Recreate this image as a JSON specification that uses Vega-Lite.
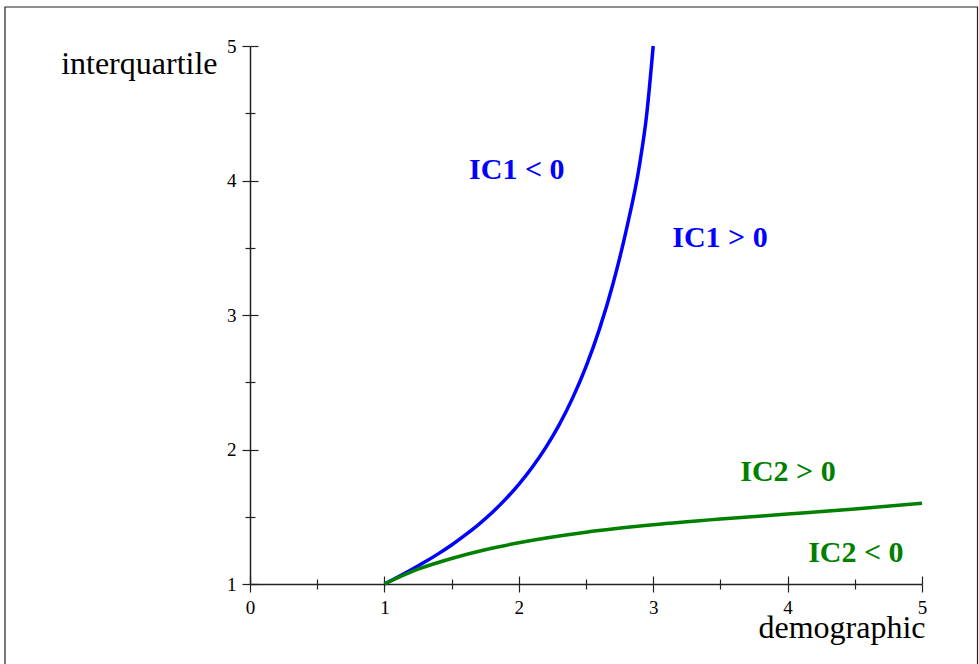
{
  "$schema": "https://vega.github.io/schema/vega-lite/v6.json",
  "width": 672,
  "height": 538,
  "autosize": {"type": "none"},
  "padding": {"left": 250, "top": 46, "right": 57, "bottom": 80},
  "background": "white",
  "config": {"view": {"stroke": null}, "font": "Liberation Serif"},
  "datasets": {
    "frame": [{"x": -1.823, "x2": 5.413, "y": 5.29, "y2": 0.4}],
    "curves": [
      {"curve": "IC1", "x": 1.0, "y": 1.0},
      {"curve": "IC1", "x": 1.1, "y": 1.052},
      {"curve": "IC1", "x": 1.2, "y": 1.106},
      {"curve": "IC1", "x": 1.3, "y": 1.163},
      {"curve": "IC1", "x": 1.4, "y": 1.224},
      {"curve": "IC1", "x": 1.5, "y": 1.29},
      {"curve": "IC1", "x": 1.6, "y": 1.363},
      {"curve": "IC1", "x": 1.7, "y": 1.442},
      {"curve": "IC1", "x": 1.8, "y": 1.53},
      {"curve": "IC1", "x": 1.9, "y": 1.629},
      {"curve": "IC1", "x": 2.0, "y": 1.741},
      {"curve": "IC1", "x": 2.1, "y": 1.868},
      {"curve": "IC1", "x": 2.2, "y": 2.014},
      {"curve": "IC1", "x": 2.3, "y": 2.183},
      {"curve": "IC1", "x": 2.4, "y": 2.382},
      {"curve": "IC1", "x": 2.5, "y": 2.616},
      {"curve": "IC1", "x": 2.6, "y": 2.895},
      {"curve": "IC1", "x": 2.7, "y": 3.229},
      {"curve": "IC1", "x": 2.8, "y": 3.633},
      {"curve": "IC1", "x": 2.9, "y": 4.127},
      {"curve": "IC1", "x": 2.95, "y": 4.477},
      {"curve": "IC1", "x": 3.0, "y": 5.0},
      {"curve": "IC2", "x": 1.0, "y": 1.0},
      {"curve": "IC2", "x": 1.25, "y": 1.11},
      {"curve": "IC2", "x": 1.5, "y": 1.19},
      {"curve": "IC2", "x": 1.75, "y": 1.255},
      {"curve": "IC2", "x": 2.0, "y": 1.307},
      {"curve": "IC2", "x": 2.5, "y": 1.385},
      {"curve": "IC2", "x": 3.0, "y": 1.44},
      {"curve": "IC2", "x": 3.5, "y": 1.483},
      {"curve": "IC2", "x": 4.0, "y": 1.52},
      {"curve": "IC2", "x": 4.5, "y": 1.558},
      {"curve": "IC2", "x": 5.0, "y": 1.6}
    ],
    "labels": [
      {"curve": "IC1", "label": "IC1 < 0", "x": 1.985, "y": 4.08},
      {"curve": "IC1", "label": "IC1 > 0", "x": 3.497, "y": 3.576},
      {"curve": "IC2", "label": "IC2 > 0", "x": 4.003, "y": 1.829},
      {"curve": "IC2", "label": "IC2 < 0", "x": 4.508, "y": 1.232}
    ]
  },
  "layer": [
    {
      "data": {"name": "frame"},
      "mark": {"type": "rect", "filled": false, "stroke": "#222222", "strokeWidth": 1.2, "clip": false},
      "encoding": {
        "x": {"field": "x", "type": "quantitative", "scale": {"domain": [0, 5], "nice": false, "zero": false}, "axis": null},
        "x2": {"field": "x2"},
        "y": {"field": "y", "type": "quantitative", "scale": {"domain": [1, 5], "nice": false, "zero": false}, "axis": null},
        "y2": {"field": "y2"}
      }
    },
    {
      "data": {"name": "curves"},
      "mark": {"type": "line", "strokeWidth": 3.5, "interpolate": "monotone", "clip": false},
      "encoding": {
        "x": {
          "field": "x", "type": "quantitative",
          "scale": {"domain": [0, 5], "nice": false, "zero": false},
          "axis": {
            "orient": "bottom",
            "values": [0, 0.5, 1, 1.5, 2, 2.5, 3, 3.5, 4, 4.5, 5],
            "labelExpr": "datum.value % 1 === 0 ? format(datum.value, 'd') : ''",
            "tickSize": {"condition": {"test": "datum.value % 1 === 0", "value": 8}, "value": 5},
            "tickColor": "#222222", "tickWidth": 1.2,
            "domainColor": "#222222", "domainWidth": 1.5,
            "grid": false,
            "labelFont": "Liberation Serif", "labelFontSize": 19, "labelColor": "#000000",
            "labelPadding": 6, "labelFlush": false, "labelOverlap": false,
            "title": "demographic",
            "titleFont": "Liberation Serif", "titleFontSize": 32, "titleFontWeight": "normal", "titleColor": "#000000",
            "titleAlign": "right", "titleBaseline": "alphabetic", "titleAnchor": null,
            "titleX": 675, "titleY": 53
          }
        },
        "y": {
          "field": "y", "type": "quantitative",
          "scale": {"domain": [1, 5], "nice": false, "zero": false},
          "axis": {
            "orient": "left",
            "values": [1, 1.5, 2, 2.5, 3, 3.5, 4, 4.5, 5],
            "labelExpr": "datum.value % 1 === 0 ? format(datum.value, 'd') : ''",
            "tickSize": {"condition": {"test": "datum.value % 1 === 0", "value": 8}, "value": 5},
            "tickColor": "#222222", "tickWidth": 1.2,
            "domainColor": "#222222", "domainWidth": 1.5,
            "grid": false,
            "labelFont": "Liberation Serif", "labelFontSize": 19, "labelColor": "#000000",
            "labelPadding": 6, "labelFlush": false, "labelOverlap": false,
            "title": "interquartile",
            "titleFont": "Liberation Serif", "titleFontSize": 32, "titleFontWeight": "normal", "titleColor": "#000000",
            "titleAngle": 0, "titleAlign": "right", "titleBaseline": "alphabetic", "titleAnchor": null,
            "titleX": -33, "titleY": 27
          }
        },
        "color": {
          "field": "curve", "type": "nominal",
          "scale": {"domain": ["IC1", "IC2"], "range": ["#0000ff", "#008000"]},
          "legend": null
        }
      }
    },
    {
      "data": {"name": "labels"},
      "mark": {"type": "text", "font": "Liberation Serif", "fontSize": 30, "fontWeight": "bold", "align": "center", "baseline": "middle"},
      "encoding": {
        "x": {
          "field": "x", "type": "quantitative",
          "scale": {"domain": [0, 5], "nice": false, "zero": false},
          "axis": {
            "orient": "top", "offset": -538,
            "values": [0, 0.5, 1, 1.5, 2, 2.5, 3, 3.5, 4, 4.5, 5],
            "labels": false, "domain": false, "grid": false, "title": null,
            "tickSize": {"condition": {"test": "datum.value % 1 === 0", "value": 8}, "value": 5},
            "tickColor": "#222222", "tickWidth": 1.2
          }
        },
        "y": {
          "field": "y", "type": "quantitative",
          "scale": {"domain": [1, 5], "nice": false, "zero": false},
          "axis": {
            "orient": "right", "offset": -672,
            "values": [1, 1.5, 2, 2.5, 3, 3.5, 4, 4.5, 5],
            "labels": false, "domain": false, "grid": false, "title": null,
            "tickSize": {"condition": {"test": "datum.value % 1 === 0", "value": 8}, "value": 5},
            "tickColor": "#222222", "tickWidth": 1.2
          }
        },
        "text": {"field": "label", "type": "nominal"},
        "color": {
          "field": "curve", "type": "nominal",
          "scale": {"domain": ["IC1", "IC2"], "range": ["#0000ff", "#008000"]},
          "legend": null
        }
      }
    }
  ],
  "resolve": {"axis": {"x": "independent", "y": "independent"}}
}
